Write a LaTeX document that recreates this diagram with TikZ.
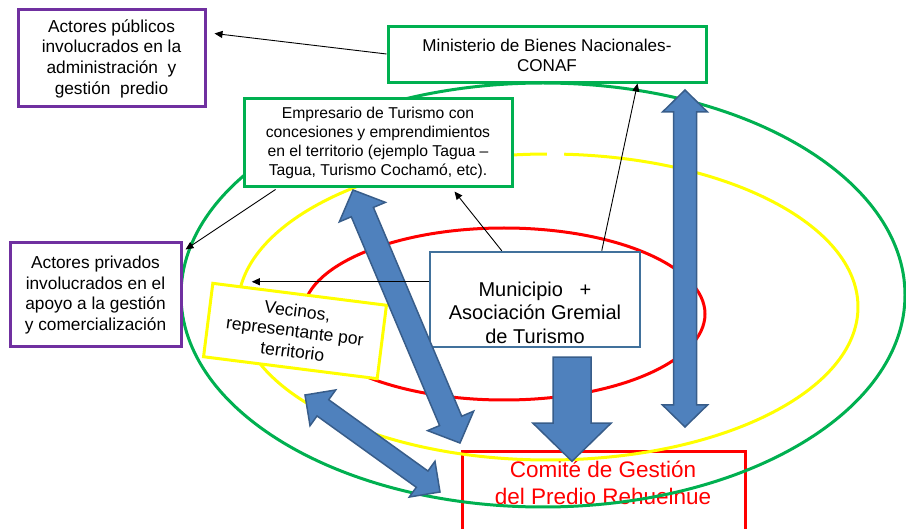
\documentclass[tikz,border=0pt]{standalone}
\usepackage{fontspec}
\setmainfont{Liberation Sans}
\usetikzlibrary{arrows.meta, calc}

\definecolor{lila}{HTML}{7030A0}
\definecolor{verde}{HTML}{00B050}
\definecolor{amarillo}{HTML}{FFFF00}
\definecolor{rojo}{HTML}{FF0000}
\definecolor{azulborde}{HTML}{41719C}
\definecolor{flechafondo}{HTML}{4F81BD}
\definecolor{flechaborde}{HTML}{385D8A}

\tikzset{
	caja/.style={draw, line width=3pt, fill=white, inner sep=0pt, align=center},
	actor/.style={caja, draw=lila, font=\fontsize{17.3}{20.7}\selectfont},
	cajaverde/.style={caja, draw=verde},
	anillo/.style={line width=3pt},
	flechita/.style={-{Triangle[length=8pt,width=7pt]}, line width=0.9pt},
	bloque/.style={fill=flechafondo, draw=flechaborde, line width=1.5pt, line join=miter},
}

% flecha doble: punta, punta, medio ancho del cuerpo, medio ancho de la cabeza, largo de la cabeza
\newcommand{\flechadoble}[5]{%
	\coordinate (pa) at ($(#1)!#5!(#2)$);
	\coordinate (pb) at ($(#2)!#5!(#1)$);
	\draw[bloque] (#1)
		-- ($(pa)!#4!90:(#2)$) -- ($(pa)!#3!90:(#2)$)
		-- ($(pb)!#3!-90:(#1)$) -- ($(pb)!#4!-90:(#1)$)
		-- (#2)
		-- ($(pb)!#4!90:(#1)$) -- ($(pb)!#3!90:(#1)$)
		-- ($(pa)!#3!-90:(#2)$) -- ($(pa)!#4!-90:(#2)$)
		-- cycle;}

\begin{document}
\begin{tikzpicture}[x=1pt, y=-1pt]
	% marco de la imagen
	\useasboundingbox (0,0) rectangle (906,529);
	\clip (0,0) rectangle (906,529);

	% comité (queda debajo de los anillos)
	\node[draw=rojo, line width=3pt, inner sep=0pt, minimum width=283, minimum height=148] (comite) at (603.5,526) {};
	\node[text=rojo, align=center, font=\fontsize{22.5}{26.5}\selectfont] (comitetexto) at (603,483)
		{Comité de Gestión\\del Predio Rehuelnue};

	% anillos
	\draw[anillo, verde] (543,295) ellipse [x radius=362pt, y radius=212pt];
	\draw[anillo, amarillo] ({548+310*cos(90.2)},{307-153*sin(90.2)})
		arc [start angle=90.2, end angle=447, x radius=310pt, y radius=153pt];
	\draw[anillo, rojo] (504,314) ellipse [x radius=201pt, y radius=86pt];

	% actores
	\node[actor, minimum width=187, minimum height=97] (publicos) at (111.5,58.5)
		{Actores públicos\\involucrados en la\\administración\ \ y\\gestión\ \ predio};
	\node[actor, minimum width=171, minimum height=104] (privados) at (95.5,295)
		{Actores privados\\involucrados en el\\apoyo a la gestión\\y comercialización};

	\node[cajaverde, minimum width=318, minimum height=56, font=\fontsize{17.1}{20}\selectfont] (ministerio) at (547,55)
		{Ministerio de Bienes Nacionales-\\CONAF};
	\node[cajaverde, minimum width=268, minimum height=88, font=\fontsize{15.7}{18.8}\selectfont] (empresario) at (378,143)
		{Empresario de Turismo con\\concesiones y emprendimientos\\en el territorio (ejemplo Tagua –\\Tagua, Turismo Cochamó, etc).};

	\node[caja, draw=amarillo, minimum width=175, minimum height=74, rotate=-7.2, font=\fontsize{17.5}{20.5}\selectfont] (vecinos) at (295,331)
		{Vecinos,\\representante por\\territorio};

	\node[caja, draw=azulborde, line width=2.5pt, minimum width=210, minimum height=95] (muni) at (535,299.5) {};
	\node[align=center, font=\fontsize{20}{23.5}\selectfont] (munitexto) at ($(muni.center)+(0,13)$)
		{Municipio\ \ \ +\\Asociación Gremial\\de Turismo};

	% flechas gruesas
	\coordinate (vertarriba) at (685,90);
	\coordinate (vertabajo) at (685,427);
	\flechadoble{vertarriba}{vertabajo}{11.5pt}{22.5pt}{22pt}

	\coordinate (diagarriba) at (353,190);
	\coordinate (diagabajo) at (460,443);
	\flechadoble{diagarriba}{diagabajo}{12pt}{25pt}{24pt}

	\coordinate (vecarriba) at (305,395);
	\coordinate (vecabajo) at (440,492);
	\flechadoble{vecarriba}{vecabajo}{10pt}{22pt}{22pt}

	\coordinate (bajada) at ($(muni.south)+(37,9)$);
	\draw[bloque] (bajada) ++(-19,0) -- ++(0,66) -- ++(-20,0) -- ++(39,38)
		-- ++(39,-38) -- ++(-20,0) -- ++(0,-66) -- cycle;

	% flechas finas
	\draw[flechita] ($(ministerio.west)+(0,-1)$) -- ($(publicos.north east)+(8,25)$);
	\draw[flechita] ($(empresario.south west)+(33,1)$) -- ($(privados.north east)+(3,8)$);
	\draw[flechita] ($(muni.north west)+(73,0)$) -- ($(empresario.south east)+(-59,3)$);
	\draw[flechita] ($(muni.north west)+(173,0)$) -- ($(ministerio.south west)+(251,-1)$);
	\draw[flechita] ($(muni.north west)+(0,31)$) -- ($(muni.north west)+(-177,31)$);
\end{tikzpicture}
\end{document}
